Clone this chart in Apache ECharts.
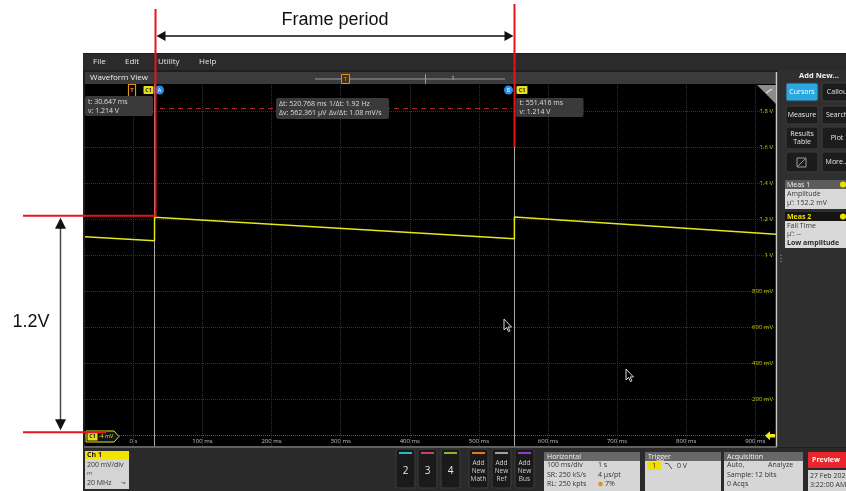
<!DOCTYPE html>
<html>
<head>
<meta charset="utf-8">
<script src="https://cdn.jsdelivr.net/npm/echarts@6/dist/echarts.min.js"></script>
<style>
  html, body { margin: 0; padding: 0; background: #ffffff; }
  #c { width: 846px; height: 491px; }
</style>
</head>
<body>
<div id="c"></div>
<script>
// Channel 1 capture: time (ms) and voltage (V)
const timeMs = [-70, 30.6, 30.647, 551.4, 551.416, 930];
const volts  = [1.106, 1.083, 1.214, 1.094, 1.2146, 1.120];

// graticule ticks and their labels
const xTicks = [0, 100, 200, 300, 400, 500, 600, 700, 800, 900];
const xTickLabels = ['0 s', '100 ms', '200 ms', '300 ms', '400 ms', '500 ms', '600 ms', '700 ms', '800 ms', '900 ms'];
const yTicks = [0.2, 0.4, 0.6, 0.8, 1.0, 1.2, 1.4, 1.6, 1.8];
const yTickLabels = ['200 mV', '400 mV', '600 mV', '800 mV', '1 V', '1.2 V', '1.4 V', '1.6 V', '1.8 V'];

// cursor A / B positions and the level they read
const cursorTimes = [30.647, 551.416];
const cursorLevel = 1.214;
const markerLevel = 1.82;

const UI = '"Open Sans", "DejaVu Sans", sans-serif';
const ANN = '"Liberation Sans", Arial, sans-serif';

function labelFor(values, labels, v) {
  const i = values.findIndex(x => Math.abs(x - v) < 1e-6);
  return i >= 0 ? labels[i] : '';
}

const chart = echarts.init(document.getElementById('c'), null, { renderer: 'canvas' });

const gridLines = [];
xTicks.forEach(v => gridLines.push({ xAxis: v }));
yTicks.forEach(v => gridLines.push({ yAxis: v }));
gridLines.push({ yAxis: 0, lineStyle: { color: '#5a5a5a', type: 'dotted', width: 1 } });

chart.setOption({
  animation: false,
  backgroundColor: '#ffffff',
  grid: { left: 85, top: 84, width: 691, height: 362, show: false },
  xAxis: {
    type: 'value', min: -70, max: 930,
    axisLine: { show: false }, axisTick: { show: false }, splitLine: { show: false },
    axisLabel: {
      inside: true, customValues: xTicks, margin: 2,
      formatter: v => labelFor(xTicks, xTickLabels, v),
      color: '#c4c4c4', fontSize: 6, fontFamily: UI
    }
  },
  yAxis: {
    type: 'value', position: 'right', min: -0.057, max: 1.954,
    axisLine: { show: false }, axisTick: { show: false }, splitLine: { show: false },
    axisLabel: {
      inside: true, customValues: yTicks, margin: 3,
      formatter: v => labelFor(yTicks, yTickLabels, v),
      color: '#d6d61e', fontSize: 6, fontFamily: UI
    }
  },
  series: [
    {
      // graticule
      type: 'line', data: [], z: 1, silent: true,
      markLine: {
        silent: true, symbol: ['none', 'none'], label: { show: false },
        lineStyle: { color: '#333333', type: 'dotted', width: 1 },
        data: gridLines
      }
    },
    {
      // cursor lines
      type: 'line', data: [], z: 2, silent: true,
      markLine: {
        silent: true, symbol: ['none', 'none'], label: { show: false },
        data: [
          { xAxis: cursorTimes[0], lineStyle: { color: '#a8a8a8', type: 'solid', width: 1 } },
          { xAxis: cursorTimes[1], lineStyle: { color: '#a8a8a8', type: 'solid', width: 1 } },
          [
            { coord: [cursorTimes[0] + 8, markerLevel], lineStyle: { color: '#b0202a', type: [5, 4], width: 1 } },
            { coord: [cursorTimes[1] - 3, markerLevel] }
          ]
        ]
      }
    },
    {
      name: 'Ch 1', type: 'line', z: 5,
      data: timeMs.map((t, i) => [t, volts[i]]),
      showSymbol: false,
      lineStyle: { color: '#e6e61c', width: 1.5 }
    }
  ]
});

const ax = chart.convertToPixel({ gridIndex: 0 }, [cursorTimes[0], cursorLevel]);
const bx = chart.convertToPixel({ gridIndex: 0 }, [cursorTimes[1], cursorLevel]);
const zero = chart.convertToPixel({ gridIndex: 0 }, [0, 0]);
const xA = Math.round(ax[0]) + 0.5, xB = Math.round(bx[0]) + 0.5;
const yLvl = ax[1] - 1.5;
const yZero = zero[1] - 3.5;

// --- drawing helpers ---
function rect(x, y, w, h, fill, z, o) {
  o = o || {};
  return { type: 'rect', z: z, silent: true, shape: { x: x, y: y, width: w, height: h, r: o.r || 0 },
           style: { fill: fill, stroke: o.stroke || null, lineWidth: o.lw || 1 } };
}
function text(x, y, str, o) {
  o = o || {};
  const al = o.align || 'left', va = o.va || 'middle';
  return { type: 'text', z: o.z == null ? 60 : o.z, silent: true, x: x, y: y,
           style: { text: str, fill: o.color || '#e0e0e0',
                    font: (o.weight || 'normal') + ' ' + (o.size || 7) + 'px ' + (o.family || UI),
                    textAlign: al, align: al, textVerticalAlign: va, verticalAlign: va } };
}
function line(x1, y1, x2, y2, stroke, w, z, dash) {
  return { type: 'line', z: z, silent: true, shape: { x1: x1, y1: y1, x2: x2, y2: y2 },
           style: { stroke: stroke, lineWidth: w, lineDash: dash || null } };
}
function poly(points, fill, z, stroke, lw) {
  return { type: 'polygon', z: z, silent: true, shape: { points: points },
           style: { fill: fill, stroke: stroke || null, lineWidth: lw || 1 } };
}
function pointer(x, y) {
  const p = [[0, 0], [0, 11], [2.5, 8.5], [4.5, 12.5], [6, 11.8], [4, 8], [7.5, 8]];
  return poly(p.map(q => [x + q[0], y + q[1]]), '#000', 55, '#d8d8d8', 1);
}

const g = [];
const BG = -10;

// instrument frame
g.push(rect(83, 53, 763, 438, '#1e1e1e', BG - 1));
g.push(rect(83, 54, 763, 16, '#2b2b2b', BG));
[['File', 93], ['Edit', 125], ['Utility', 158], ['Help', 199]].forEach(m =>
  g.push(text(m[1], 62, m[0], { size: 8, color: '#e6e6e6', z: BG + 1 })));

// waveform view header
g.push(rect(85, 72, 692, 12, '#3b3b3b', BG));
g.push(text(90, 78, 'Waveform View', { size: 8, color: '#ececec', z: BG + 1 }));
g.push(line(315, 79, 505, 79, '#7c7c7c', 1.5, BG + 1));
g.push(line(425.5, 74, 425.5, 84, '#9a9a9a', 1, BG + 1));
g.push(rect(341.5, 74.5, 8, 9, '#4a3010', BG + 2, { stroke: '#e8901c', lw: 1 }));
g.push(text(345.5, 79, 'T', { size: 6, color: '#e8901c', align: 'center', z: BG + 3 }));
g.push(text(453, 78, '1', { size: 6, color: '#c8c8c8', align: 'center', z: BG + 3 }));

// plot area
g.push(rect(85, 84, 691, 362, '#000000', BG));
g.push(line(776.5, 72, 776.5, 447, '#c8c8c8', 1.5, BG + 1));
g.push(line(84, 447, 777, 447, '#7a7a7a', 1.5, BG + 1));

// right-hand panel
g.push(rect(778, 70, 68, 377, '#2f2f2f', BG));
g.push(text(819, 76, 'Add New...', { size: 7.5, weight: 'bold', color: '#f2f2f2', align: 'center', z: BG + 1 }));
function btn(x, y, w, h, label, fill, col) {
  g.push(rect(x, y, w, h, fill || '#1c1c1c', BG + 1, { r: 2, stroke: '#3e3e3e' }));
  const lines = label.split('\n');
  lines.forEach((s, i) => g.push(text(x + w / 2, y + h / 2 + (i - (lines.length - 1) / 2) * 8, s,
    { size: 7, color: col || '#e8e8e8', align: 'center', z: BG + 2 })));
}
btn(786, 83, 32, 18, 'Cursors', '#2aa8e2', '#ffffff');
btn(822, 83, 30, 18, 'Callou');
btn(786, 106, 32, 18, 'Measure');
btn(822, 106, 30, 18, 'Search');
btn(786, 127, 32, 22, 'Results\nTable');
btn(822, 127, 30, 22, 'Plot');
btn(786, 152, 32, 20, '');
btn(822, 152, 30, 20, 'More...');
g.push(poly([[797, 158], [806, 158], [806, 167], [797, 167]], null, BG + 2, '#9a9a9a', 1));
g.push(line(798, 166, 805, 159, '#9a9a9a', 1, BG + 2));

// measurement badges
g.push(rect(785, 180, 61, 9, '#5c5c5c', BG + 1));
g.push(text(787, 184.5, 'Meas 1', { size: 7, color: '#f0f0f0', z: BG + 2 }));
g.push({ type: 'circle', z: BG + 2, silent: true, shape: { cx: 843, cy: 184.5, r: 3 }, style: { fill: '#f0e000' } });
g.push(rect(785, 189, 61, 20, '#d9d9d9', BG + 1));
g.push(text(787, 194, 'Amplitude', { size: 7, color: '#3a3a3a', z: BG + 2 }));
g.push(text(787, 203, "\u03bc': 152.2 mV", { size: 7, color: '#3a3a3a', z: BG + 2 }));
g.push(rect(785, 212, 61, 9, '#141414', BG + 1));
g.push(text(787, 216.5, 'Meas 2', { size: 7, color: '#f0e000', weight: 'bold', z: BG + 2 }));
g.push({ type: 'circle', z: BG + 2, silent: true, shape: { cx: 843, cy: 216.5, r: 3 }, style: { fill: '#f0e000' } });
g.push(rect(785, 221, 61, 27, '#d9d9d9', BG + 1));
g.push(text(787, 226, 'Fall Time', { size: 7, color: '#3a3a3a', z: BG + 2 }));
g.push(text(787, 234, "\u03bc': --", { size: 7, color: '#3a3a3a', z: BG + 2 }));
g.push(text(787, 243, 'Low amplitude', { size: 7, weight: 'bold', color: '#2a2a2a', z: BG + 2 }));
g.push(text(781, 258, '\u22ee', { size: 9, color: '#a0a0a0', align: 'center', z: BG + 2 }));

// bottom status bar
g.push(rect(83, 448, 763, 43, '#2a2a2a', BG));
g.push(rect(85, 451, 44, 8, '#f2e400', BG + 1));
g.push(text(87, 455, 'Ch 1', { size: 7, color: '#222', weight: 'bold', z: BG + 2 }));
g.push(rect(85, 459, 44, 30, '#d4d4d4', BG + 1));
g.push(text(87, 465, '200 mV/div', { size: 7, color: '#333', z: BG + 2 }));
g.push(text(87, 473, 'm', { size: 6, color: '#555', z: BG + 2 }));
g.push(text(87, 483, '20 MHz', { size: 7, color: '#333', z: BG + 2 }));
g.push(text(121, 482, '\u2b0e', { size: 6, color: '#555', z: BG + 2 }));

[[396, '2', '#2ab4c4'], [418, '3', '#d0405c'], [441, '4', '#8cb430']].forEach(b => {
  g.push(rect(b[0], 449, 19, 39, '#1a1a1a', BG + 1, { r: 2, stroke: '#3c3c3c' }));
  g.push(line(b[0] + 3, 453, b[0] + 16, 453, b[2], 2, BG + 2));
  g.push(text(b[0] + 9.5, 471, b[1], { size: 10, color: '#e8e8e8', align: 'center', z: BG + 2 }));
});
[[469, 'Math', '#e07a20'], [492, 'Ref', '#a0a0a0'], [515, 'Bus', '#9040c8']].forEach(b => {
  g.push(rect(b[0], 449, 19, 39, '#1a1a1a', BG + 1, { r: 2, stroke: '#3c3c3c' }));
  g.push(line(b[0] + 3, 453, b[0] + 16, 453, b[2], 2, BG + 2));
  ['Add', 'New', b[1]].forEach((s, i) =>
    g.push(text(b[0] + 9.5, 463 + i * 8, s, { size: 6.5, color: '#d0d0d0', align: 'center', z: BG + 2 })));
});

function infoBox(x, w, title) {
  g.push(rect(x, 452, w, 9, '#686868', BG + 1));
  g.push(text(x + 3, 456.5, title, { size: 7, color: '#f4f4f4', z: BG + 2 }));
  g.push(rect(x, 461, w, 30, '#d6d6d6', BG + 1));
}
infoBox(544, 96, 'Horizontal');
[['100 ms/div', '1 s', 465], ['SR: 250 kS/s', '4 \u03bcs/pt', 474.5], ['RL: 250 kpts', '7%', 484]].forEach(r => {
  g.push(text(547, r[2], r[0], { size: 7, color: '#333', z: BG + 2 }));
  g.push(text(r[1] === '7%' ? 605 : 598, r[2], r[1], { size: 7, color: '#333', z: BG + 2 }));
});
g.push({ type: 'circle', z: BG + 2, silent: true, shape: { cx: 600.5, cy: 484, r: 2.3 }, style: { fill: '#e0901c' } });

infoBox(645, 76, 'Trigger');
g.push(rect(647, 462, 14, 8, '#f0e000', BG + 2, { r: 1 }));
g.push(text(654, 466, '1', { size: 6.5, color: '#222', align: 'center', z: BG + 3 }));
g.push({ type: 'polyline', z: BG + 2, silent: true, shape: { points: [[665, 463.5], [668, 463.5], [672, 469]] },
         style: { stroke: '#555', lineWidth: 1, fill: null } });
g.push(text(677, 466, '0 V', { size: 7, color: '#333', z: BG + 2 }));

infoBox(724, 79, 'Acquisition');
g.push(text(727, 465, 'Auto,', { size: 7, color: '#333', z: BG + 2 }));
g.push(text(768, 465, 'Analyze', { size: 7, color: '#333', z: BG + 2 }));
g.push(text(727, 474.5, 'Sample: 12 bits', { size: 7, color: '#333', z: BG + 2 }));
g.push(text(727, 484, '0 Acqs', { size: 7, color: '#333', z: BG + 2 }));

g.push(rect(808, 452, 40, 16, '#e8262c', BG + 1));
g.push(text(812, 460, 'Preview', { size: 7, weight: 'bold', color: '#ffffff', z: BG + 2 }));
g.push(rect(808, 470, 40, 21, '#d6d6d6', BG + 1));
g.push(text(810, 476, '27 Feb 202', { size: 7, color: '#333', z: BG + 2 }));
g.push(text(810, 485, '3:22:00 AM', { size: 7, color: '#333', z: BG + 2 }));

// on-screen markers
g.push(rect(128.5, 84.5, 7, 12, '#000', 40, { stroke: '#e8901c', lw: 1.2 }));
g.push(text(132, 90.5, 'T', { size: 6, color: '#e8901c', align: 'center', weight: 'bold', z: 41 }));
g.push(rect(xA - 12, 86, 10, 8, '#e6e01c', 40, { r: 1 }));
g.push(text(xA - 7, 90, 'C1', { size: 5.5, color: '#222', align: 'center', weight: 'bold', z: 41 }));
g.push({ type: 'circle', z: 40, silent: true, shape: { cx: xA + 4, cy: 90, r: 4.5 }, style: { fill: '#2a8ee6' } });
g.push(text(xA + 4, 90, 'A', { size: 5.5, color: '#fff', align: 'center', z: 41 }));
g.push({ type: 'circle', z: 40, silent: true, shape: { cx: xB - 6, cy: 90, r: 4.5 }, style: { fill: '#2a8ee6' } });
g.push(text(xB - 6, 90, 'B', { size: 5.5, color: '#fff', align: 'center', z: 41 }));
g.push(rect(xB + 2, 86, 11, 8, '#e6e01c', 40, { r: 1 }));
g.push(text(xB + 7.5, 90, 'C1', { size: 5.5, color: '#222', align: 'center', weight: 'bold', z: 41 }));

// cursor readouts
g.push(rect(85, 96, 68, 20, '#3a3a3a', 40, { r: 2 }));
g.push(text(88, 102, 't: ' + cursorTimes[0].toFixed(3) + ' ms', { size: 7, color: '#dedede', z: 41 }));
g.push(text(88, 111, 'v: ' + cursorLevel.toFixed(3) + ' V', { size: 7, color: '#dedede', z: 41 }));
g.push(rect(276, 98, 113, 21, '#3a3a3a', 40, { r: 2 }));
g.push(text(279, 104, '\u0394t: 520.768 ms', { size: 7, color: '#dedede', z: 41 }));
g.push(text(329, 104, '1/\u0394t: 1.92 Hz', { size: 7, color: '#dedede', z: 41 }));
g.push(text(279, 113, '\u0394v: 562.361 \u03bcV', { size: 7, color: '#dedede', z: 41 }));
g.push(text(329, 113, '\u0394v/\u0394t: 1.08 mV/s', { size: 7, color: '#dedede', z: 41 }));
g.push(rect(xB + 1, 98, 68, 19, '#3a3a3a', 40, { r: 2 }));
g.push(text(xB + 5, 103, 't: ' + cursorTimes[1].toFixed(3) + ' ms', { size: 7, color: '#dedede', z: 41 }));
g.push(text(xB + 5, 112, 'v: ' + cursorLevel.toFixed(3) + ' V', { size: 7, color: '#dedede', z: 41 }));

// corner badge, ground marker, pointers
g.push(poly([[757, 85], [776, 85], [776, 104]], '#8c8c8c', 40));
g.push(line(766, 93, 772, 89, '#e0e0e0', 1.2, 41));
g.push(poly([[86, 431], [114, 431], [119, 436.5], [114, 442], [86, 442]], '#141414', 40, '#e6e01c', 1));
g.push(rect(87.5, 432.5, 10, 8, '#e6e01c', 41));
g.push(text(92.5, 436.7, 'C1', { size: 5.5, color: '#222', weight: 'bold', align: 'center', z: 42 }));
g.push(text(106, 436.7, '-4 mV', { size: 5.5, color: '#e6e01c', align: 'center', z: 42 }));
g.push(poly([[765, zero[1]], [770, zero[1] - 4.5], [770, zero[1] - 1.8], [775, zero[1] - 1.8],
             [775, zero[1] + 1.8], [770, zero[1] + 1.8], [770, zero[1] + 4.5]], '#f0e81c', 40));
g.push(pointer(504, 319));
g.push(pointer(626, 369));

// annotation: frame period
const RED = '#e8141c';
g.push(line(xA, 9, xA, yLvl, RED, 2, 70));
g.push(line(xB, 4, xB, 147, RED, 2, 70));
g.push(line(xA + 6, 36, xB - 8, 36, '#4a4a4a', 2, 70));
g.push(poly([[xA + 1, 36], [xA + 10, 31], [xA + 10, 41]], '#111', 71));
g.push(poly([[xB - 1, 36], [xB - 10, 31], [xB - 10, 41]], '#111', 71));
g.push(text((xA + xB) / 2, 20, 'Frame period', { size: 18, color: '#111', align: 'center', family: ANN, z: 71 }));

// annotation: amplitude
g.push(line(23, yLvl, xA + 1, yLvl, RED, 2, 70));
g.push(line(23, yZero, 106, yZero, RED, 2, 70));
g.push(line(60.5, yLvl + 8, 60.5, yZero - 8, '#4a4a4a', 1.5, 70));
g.push(poly([[60.5, yLvl + 2], [55, yLvl + 13], [66, yLvl + 13]], '#111', 71));
g.push(poly([[60.5, yZero - 2], [55, yZero - 13], [66, yZero - 13]], '#111', 71));
g.push(text(31, 322, '1.2V', { size: 18, color: '#111', align: 'center', family: ANN, z: 71 }));

chart.setOption({ graphic: { elements: g } });
</script>
</body>
</html>
